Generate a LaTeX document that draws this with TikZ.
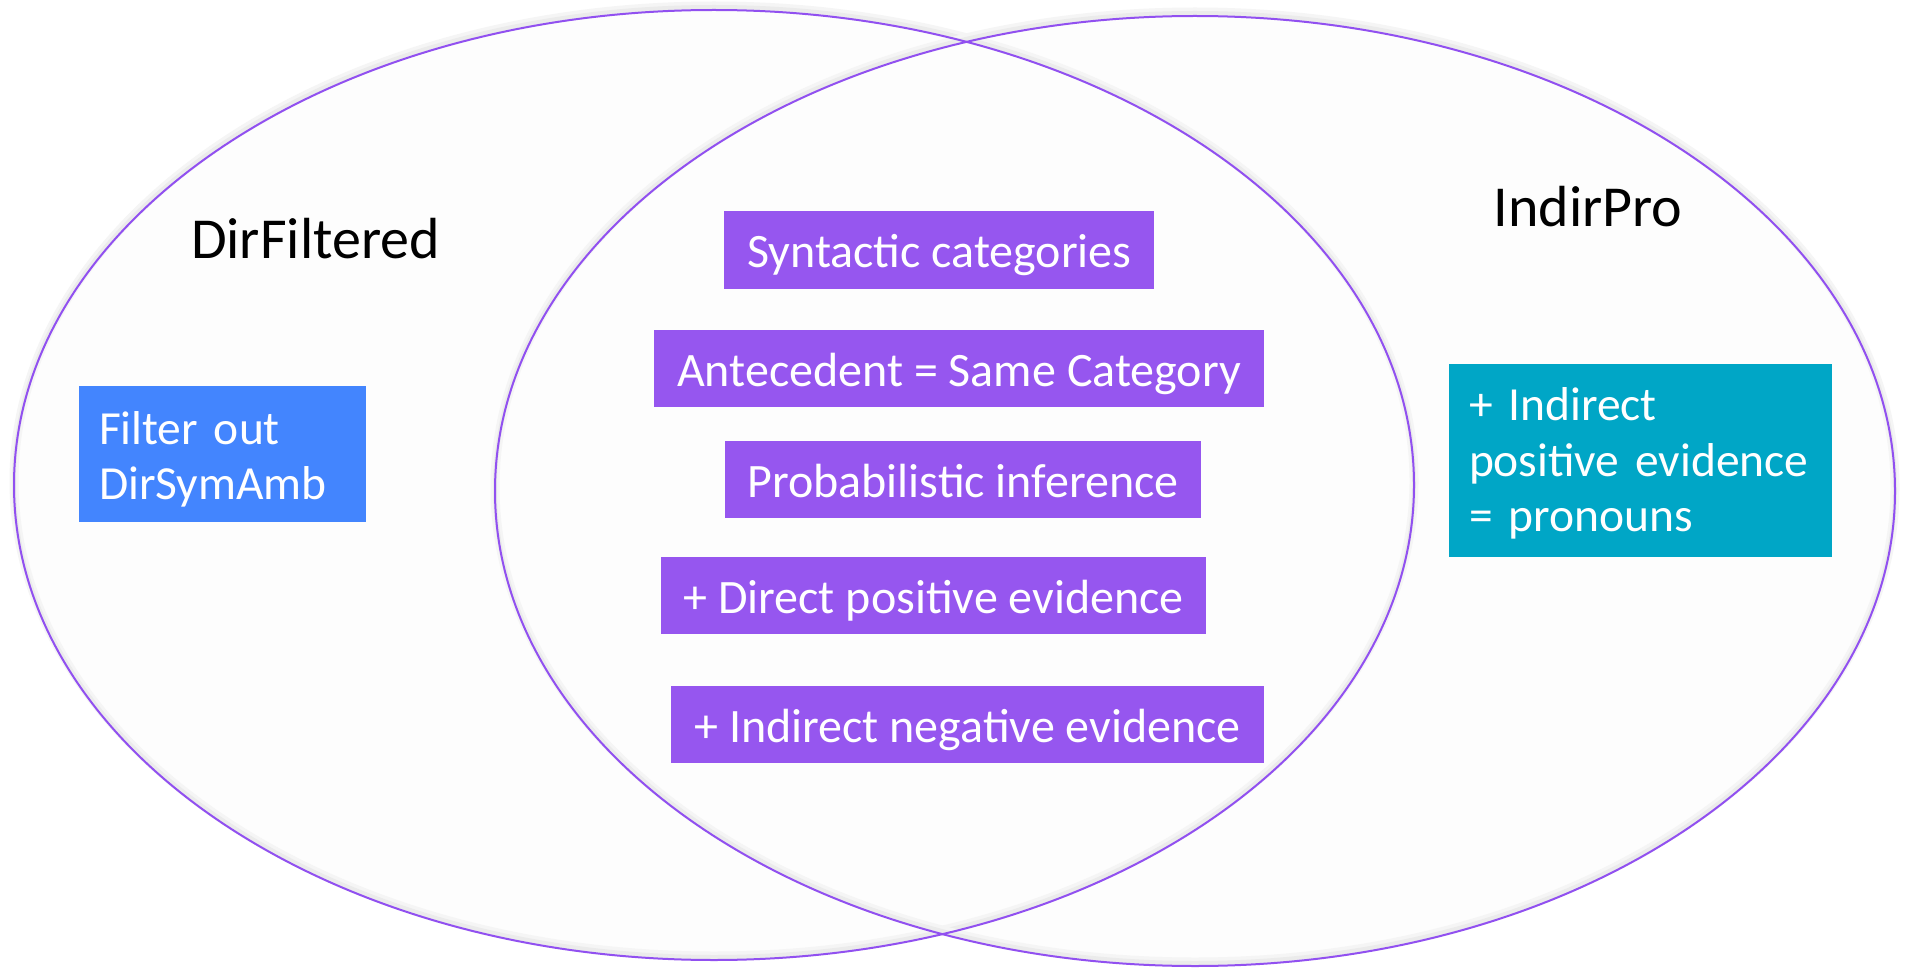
\documentclass[tikz,border=0pt]{standalone}
\usepackage{fontspec}
\setmainfont{Carlito}
\definecolor{vennline}{HTML}{9150F0}
\definecolor{vennfill}{HTML}{FDFDFD}
\definecolor{boxpurple}{HTML}{9656EF}
\definecolor{boxblue}{HTML}{4385FE}
\definecolor{boxteal}{HTML}{00A6C6}
\begin{document}
\begin{tikzpicture}[x=1pt,y=-1pt,
  setfill/.style={fill=vennfill},
  setshadowwide/.style={draw=black!4, line width=9pt},
  setshadow/.style={draw=black!8, line width=4pt},
  setline/.style={draw=vennline, line width=2pt},
  setlabel/.style={font=\fontsize{58}{70}\selectfont, text=black, anchor=base, inner sep=0pt},
  factbox/.style={rectangle, text=white, font=\fontsize{48}{56}\selectfont,
    inner xsep=0pt, inner ysep=0pt, text height=44pt, text depth=8pt},
  listbox/.style={rectangle, text=white, font=\fontsize{47.5}{55.5}\selectfont,
    inner xsep=20pt, inner ysep=0pt, align=left, anchor=north west},
]
\useasboundingbox (0,0) rectangle (1906,968);
\fill[white] (0,0) rectangle (1906,968);

% the two sets
\coordinate (dircenter) at (714,485);
\coordinate (indcenter) at (1195,491);
\fill[setfill] (dircenter) ellipse [x radius=700, y radius=475];
\fill[setfill] (indcenter) ellipse [x radius=700, y radius=475];
\foreach \c in {dircenter,indcenter} {
  \draw[setshadowwide] ([yshift=4pt]\c) ellipse [x radius=700, y radius=475];
  \draw[setshadow] ([yshift=3pt]\c) ellipse [x radius=700, y radius=475];
}
\draw[setline] (dircenter) ellipse [x radius=700, y radius=475];
\draw[setline] (indcenter) ellipse [x radius=700, y radius=475];

% set names
\node[setlabel] (dirlabel) at (315.5,259) {DirFiltered};
\node[setlabel] (indlabel) at (1588,227) {IndirPro};

% shared ingredients
\node[factbox, fill=boxpurple, minimum width=430pt, minimum height=78pt]
  (syn) at (939.3,250) {Syntactic categories};
\node[factbox, fill=boxpurple, minimum width=610pt, minimum height=77pt]
  (ante) at (959,368.5) {Antecedent = Same Category};
\node[factbox, fill=boxpurple, minimum width=476.5pt, minimum height=77pt]
  (prob) at (963,479.5) {Probabilistic inference};
\node[factbox, fill=boxpurple, minimum width=545pt, minimum height=77pt]
  (dirpos) at (933.5,595) {+ Direct positive evidence};
\node[factbox, fill=boxpurple, minimum width=593pt, minimum height=77pt]
  (indneg) at (967.5,724) {+ Indirect negative evidence};

% set-specific ingredients
\node[listbox, fill=boxblue, anchor=center, text width=247pt,
  minimum height=136pt, text height=40pt, text depth=60pt]
  (filter) at (222.5,454) {Filter out\\DirSymAmb};
\node[listbox, fill=boxteal, anchor=center, text width=343pt,
  minimum height=193pt, text height=40pt, text depth=120pt]
  (indpos) at (1640.5,460.5) {+ Indirect\\positive evidence\\= pronouns};
\end{tikzpicture}
\end{document}
